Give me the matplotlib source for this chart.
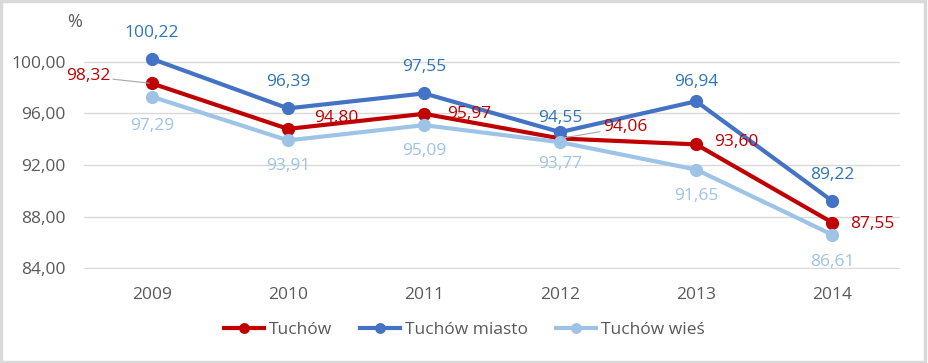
import matplotlib.pyplot as plt
from matplotlib.patches import Rectangle

years = ['2009', '2010', '2011', '2012', '2013', '2014']
tuchow = [98.32, 94.80, 95.97, 94.06, 93.60, 87.55]
miasto = [100.22, 96.39, 97.55, 94.55, 96.94, 89.22]
wies = [97.29, 93.91, 95.09, 93.77, 91.65, 86.61]

# label offsets in pixels (dx, dy) relative to each point
off_tuchow = [(-64, 7), (48, 11), (45, 0), (65, 11), (40, 2), (40, -1)]
off_miasto = [(0, 26), (0, 26), (0, 26), (0, 14), (0, 19), (0, 26)]
off_wies = [(0, -29), (0, -26), (0, -26), (0, -22), (0, -26), (0, -27)]

plt.rcParams['font.family'] = ['Open Sans', 'DejaVu Sans']

fig = plt.figure(figsize=(9.29, 3.63), dpi=100)
ax = fig.add_axes([0.0904, 0.259, 0.8786, 0.642])

x = range(len(years))
series = [
    ('Tuchów', tuchow, '#C00000', '#C00000', off_tuchow),
    ('Tuchów miasto', miasto, '#4472C4', '#2E75B6', off_miasto),
    ('Tuchów wieś', wies, '#9DC3E6', '#9DC3E6', off_wies),
]
for name, vals, col, lcol, offs in series:
    ax.plot(x, vals, color=col, lw=3, marker='o', ms=8.5, label=name, zorder=3)
    for i, v in enumerate(vals):
        dx, dy = offs[i]
        lead = (name == 'Tuchów' and i in (0, 3))
        ax.annotate(f'{v:.2f}'.replace('.', ','), (i, v), xytext=(dx, dy),
                    textcoords='offset pixels', ha='center', va='center',
                    color=lcol, fontsize=12.5, zorder=4,
                    arrowprops=dict(arrowstyle='-', color='#a6a6a6', lw=0.8,
                                    shrinkA=0, shrinkB=2) if lead else None)

ax.set_xlim(-0.5, 5.5)
ax.set_ylim(83.95, 102)
ax.set_yticks([84, 88, 92, 96, 100])
ax.set_yticklabels([f'{t:.2f}'.replace('.', ',') for t in [84, 88, 92, 96, 100]])
ax.set_xticks(list(x))
ax.set_xticklabels(years)
ax.tick_params(length=0, labelsize=12.5, labelcolor='#595959')
ax.tick_params(axis='y', pad=13)
ax.tick_params(axis='x', pad=13)
ax.grid(axis='y', color='#d9d9d9', lw=1)
ax.set_axisbelow(True)
for s in ax.spines.values():
    s.set_visible(False)

fig.text(75 / 929, 1 - 22 / 363, '%', ha='center', va='center', fontsize=13, color='#595959')

fig.legend(loc='center', bbox_to_anchor=(0.5, 1 - 330 / 363), ncol=3, frameon=False,
           fontsize=12.5, labelcolor='#595959', handlelength=2.3, columnspacing=1.6,
           handletextpad=0.3, markerscale=0.8)

fig.patches.append(Rectangle((0.001, 0.004), 0.995, 0.994, transform=fig.transFigure,
                             fill=False, edgecolor='#d9d9d9', lw=2.5))

fig.savefig('out.png', dpi=100)
